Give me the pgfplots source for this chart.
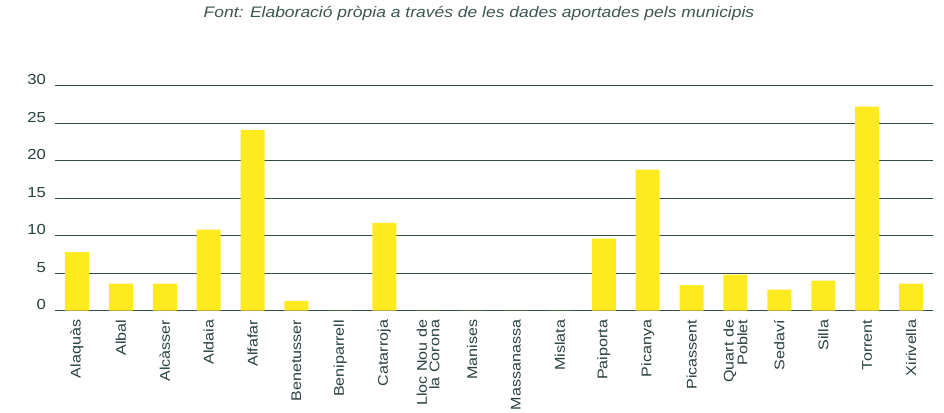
\documentclass[border=0pt]{standalone}
\usepackage{pgfplots}
\pgfplotsset{compat=1.18}
\usepackage{fontspec}
\setmainfont{Liberation Sans}[FakeStretch=1.15]
\definecolor{baryellow}{HTML}{FFE91F}
\definecolor{txtc}{HTML}{263F3F}
\definecolor{gridc}{HTML}{2F4B4A}
\definecolor{titlec}{HTML}{3D5652}
\begin{document}
\begin{tikzpicture}[x=1pt,y=1pt]
\path[use as bounding box] (0,0) rectangle (944,412);
\node[anchor=base, text=titlec, font=\fontsize{15.2}{18}\selectfont\itshape, inner sep=0pt] at (479,394) {Font: Elaboració pròpia a través de les dades aportades pels municipis};
\begin{axis}[
  at={(55pt,101.3pt)}, anchor=south west,
  scale only axis, width=878pt, height=225pt,
  xmin=-0.5, xmax=19.5, ymin=0, ymax=30,
  ybar, bar width=24pt,
  ytick={0,5,...,30},
  xtick={0,...,19},
  xticklabels={Alaquàs,Albal,Alcàsser,Aldaia,Alfafar,Benetusser,Beniparrell,Catarroja,{Lloc Nou de\\la Corona},Manises,Massanassa,Mislata,Paiporta,Picanya,Picassent,{Quart de\\Poblet},Sedaví,Silla,Torrent,Xirivella},
  major tick length=0pt,
  axis line style={draw=none},
  ymajorgrids,
  grid style={color=gridc, line width=1pt},
  /pgf/number format/assume math mode=true,
  yticklabel style={anchor=base east, inner xsep=9pt, inner ysep=0pt, text=txtc, font=\fontsize{14.5}{16}\selectfont, yshift=1pt},
  xticklabel style={rotate=90, anchor=east, align=right, inner xsep=9pt, inner ysep=0pt, text=txtc, font=\fontsize{14}{12.5}\selectfont},
  clip=false,
]
\addplot[fill=baryellow, draw=none] coordinates {
(0,7.8) (1,3.6) (2,3.6) (3,10.8) (4,24.1) (5,1.3) (6,0) (7,11.7) (8,0) (9,0)
(10,0) (11,0) (12,9.6) (13,18.8) (14,3.4) (15,4.8) (16,2.8) (17,4.0) (18,27.2) (19,3.6)
};
\end{axis}
\end{tikzpicture}
\end{document}
